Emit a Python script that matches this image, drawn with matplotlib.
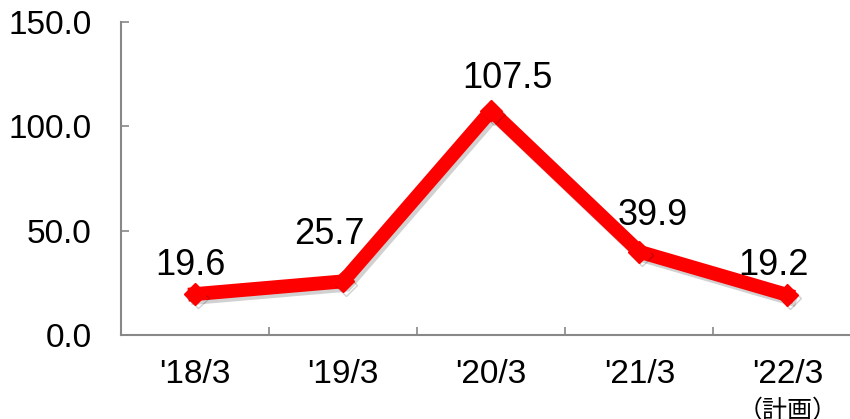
import matplotlib.pyplot as plt
import matplotlib.patheffects as pe

categories = ["'18/3", "'19/3", "'20/3", "'21/3", "'22/3"]
values = [19.6, 25.7, 107.5, 39.9, 19.2]
labels = ["19.6", "25.7", "107.5", "39.9", "19.2"]
yticks = [0, 50, 100, 150]
note = "（計画）"

# label nudges in points (hand placed in the original)
label_dx = [-3, -10, 11.5, 10, -10]
label_dy = [14, 27, 16, 19, 14]

plt.rcParams['font.family'] = ['Liberation Sans', 'DejaVu Sans']

fig = plt.figure(figsize=(8.5, 4.19), dpi=100)
ax = fig.add_axes([0.1424, 0.2005, 0.871, 0.747])

x = list(range(len(values)))
shadow = [pe.SimpleLineShadow(offset=(2, -2.5), alpha=0.18, shadow_color='black'), pe.Normal()]
ax.plot(x, values, color='#ff0000', lw=10, marker='D', ms=11,
        solid_joinstyle='miter', path_effects=shadow, zorder=3)

for xi, v, t, dx, dy in zip(x, values, labels, label_dx, label_dy):
    ax.annotate(t, (xi, v), xytext=(dx, dy), textcoords='offset points',
                ha='center', va='baseline', fontsize=26)

ax.set_xlim(-0.5, 4.5)
ax.set_ylim(0, 150)
ax.set_yticks(yticks)
ax.set_yticklabels(['%.1f' % t for t in yticks])
ax.set_xticks([i + 0.5 for i in range(len(values) - 1)])
ax.set_xticklabels([])
ax.set_xticks(x, minor=True)
ax.set_xticklabels(categories, minor=True)

ax.tick_params(axis='y', direction='in', length=6, width=1.2, color='#888888',
               labelsize=24, pad=21)
ax.tick_params(axis='x', which='major', direction='in', length=6, width=1.2,
               color='#888888')
ax.tick_params(axis='x', which='minor', length=0, labelsize=24, pad=17)

for s in ['top', 'right']:
    ax.spines[s].set_visible(False)
for s in ['left', 'bottom']:
    ax.spines[s].set_color('#888888')
    ax.spines[s].set_linewidth(1.5)

ax.text(4, -0.24, note, transform=ax.get_xaxis_transform(), ha='center',
        va='center', fontsize=18, family=['Noto Sans CJK JP', 'DejaVu Sans'])

fig.savefig('out.png', dpi=100)
